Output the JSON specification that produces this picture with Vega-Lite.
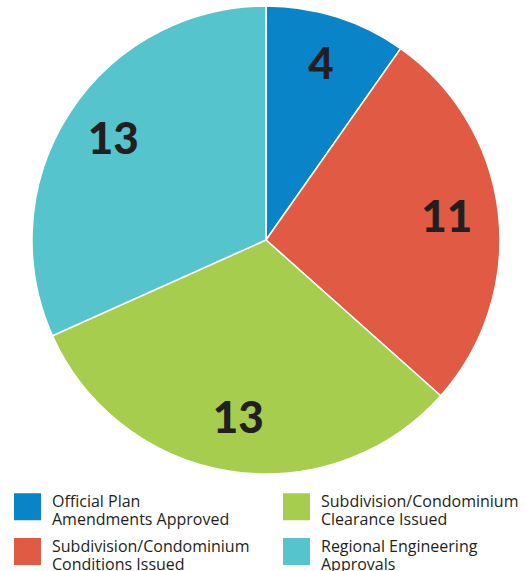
{
  "$schema": "https://vega.github.io/schema/vega-lite/v6.json",
  "width": 532,
  "height": 480,
  "padding": {"left": 0, "top": 0, "right": 0, "bottom": 91},
  "autosize": "none",
  "background": "white",
  "config": {"view": {"stroke": null}},
  "data": {
    "values": [
      {"category": "Official Plan|Amendments Approved", "value": 4, "order": 1},
      {"category": "Subdivision/Condominium|Conditions Issued", "value": 11, "order": 2},
      {"category": "Subdivision/Condominium|Clearance Issued", "value": 13, "order": 3},
      {"category": "Regional Engineering|Approvals", "value": 13, "order": 4}
    ]
  },
  "encoding": {
    "theta": {"field": "value", "type": "quantitative", "stack": true},
    "order": {"field": "order", "type": "quantitative"}
  },
  "layer": [
    {
      "mark": {"type": "arc", "outerRadius": 234, "stroke": "white", "strokeWidth": 1.5},
      "encoding": {
        "color": {
          "field": "category",
          "type": "nominal",
          "sort": null,
          "scale": {
            "domain": ["Official Plan|Amendments Approved", "Subdivision/Condominium|Conditions Issued", "Subdivision/Condominium|Clearance Issued", "Regional Engineering|Approvals"],
            "range": ["#0a84c8", "#e05a44", "#a7cd4e", "#56c4cc"]
          },
          "legend": {
            "title": null,
            "orient": "none",
            "legendX": 14,
            "legendY": 493,
            "columns": 2,
            "columnPadding": 33,
            "rowPadding": 10,
            "symbolType": "square",
            "symbolSize": 729,
            "symbolStrokeWidth": 0,
            "symbolOpacity": 1,
            "labelExpr": "split(datum.label, '|')",
            "labelFont": "Open Sans",
            "labelFontSize": 16,
            "labelLineHeight": 15.5,
            "labelColor": "#231f20",
            "labelOffset": 11,
            "labelBaseline": "alphabetic",
            "labelLimit": 300
          }
        }
      }
    },
    {
      "mark": {"type": "text", "radius": 182, "font": "Lato", "fontWeight": 900, "fontSize": 44, "color": "#231f20", "baseline": "middle", "align": "center"},
      "encoding": {
        "text": {"field": "value", "type": "quantitative"}
      }
    }
  ]
}
